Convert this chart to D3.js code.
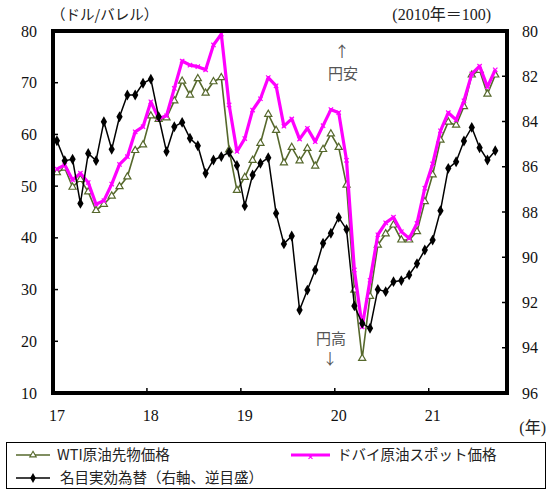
<!DOCTYPE html>
<html>
<head>
<meta charset="utf-8">
<script src="https://cdn.jsdelivr.net/npm/d3@7"></script>
<style>
  html, body { margin: 0; padding: 0; background: #fff; }
  svg { display: block; }
</style>
</head>
<body>
<svg id="chart" width="551" height="491"></svg>
<script>
// Monthly series, Jan 2017 – Sep 2021
const yearLabels = ["17", "18", "19", "20", "21"];
const leftTicks = [10, 20, 30, 40, 50, 60, 70, 80];
const rightTicks = [80, 82, 84, 86, 88, 90, 92, 94, 96];

// WTI crude oil futures (USD/bbl)
const wti = [
  52.6, 53.5, 49.8, 51.3, 48.9, 45.3, 46.5, 48.1, 49.9, 51.8, 56.9, 58.0,
  63.6, 62.9, 63.2, 66.5, 70.3, 67.6, 70.8, 68.0, 70.2, 71.0, 57.0, 49.2,
  51.7, 55.0, 58.3, 63.9, 60.8, 54.5, 57.5, 54.9, 57.3, 53.9, 57.1, 60.1,
  57.5, 50.2, 29.9, 16.7, 28.7, 38.6, 40.8, 42.5, 39.6, 39.6, 41.2, 47.0,
  52.2, 58.9, 62.4, 61.8, 65.4, 71.5, 72.4, 67.8, 71.5
];
// Dubai crude oil spot (USD/bbl)
const dubai = [
  53.3, 54.1, 51.2, 52.5, 50.7, 46.5, 47.2, 50.4, 54.2, 55.7, 60.5, 61.5,
  66.3, 63.1, 63.6, 68.9, 74.2, 73.4, 73.1, 72.5, 77.3, 79.4, 65.7, 56.7,
  59.2, 64.7, 66.9, 71.0, 69.4, 61.6, 63.0, 59.1, 61.2, 58.6, 61.7, 64.8,
  64.2, 55.0, 33.8, 22.8, 31.8, 40.6, 42.9, 44.0, 41.2, 39.9, 42.8, 49.6,
  54.3, 60.7, 64.2, 62.8, 66.5, 71.7, 73.2, 69.2, 72.5
];
// Nominal effective exchange rate (2010 = 100), right axis inverted
const neer = [
  84.85, 85.73, 85.67, 87.62, 85.41, 85.73, 84.01, 85.23, 83.79, 82.83, 82.83, 82.31,
  82.13, 83.79, 85.33, 84.23, 84.04, 84.74, 85.07, 86.29, 85.70, 85.55, 85.36, 85.94,
  87.73, 86.36, 85.85, 85.60, 88.06, 89.41, 89.06, 92.33, 91.45, 90.56, 89.38, 88.94,
  88.24, 88.77, 92.15, 92.92, 93.14, 91.42, 91.52, 91.08, 91.03, 90.78, 90.28, 89.68,
  89.24, 87.94, 86.07, 85.78, 84.86, 84.26, 85.16, 85.70, 85.29
];

const svg = d3.select("#chart");
const plot = { left: 53, right: 507, top: 31, bottom: 393 };
const nSlots = 58; // monthly slots on the category axis

const x = d3.scaleLinear().domain([0, nSlots]).range([plot.left, plot.right]);
const yL = d3.scaleLinear().domain([10, 80]).range([plot.bottom, plot.top]);
const yR = d3.scaleLinear().domain([80, 96]).range([plot.top, plot.bottom]);
const cx = i => x(i + 0.5);

const numFont = "'Liberation Serif', 'Times New Roman', serif";
const jpFont = "'Liberation Serif', 'Noto Sans CJK JP', serif";
const legFont = "'Noto Sans CJK JP', 'Noto Sans', sans-serif";

const olive = "#56682c";
const magenta = "#ff00ff";

// Left axis labels and inner ticks
const gL = svg.append("g");
gL.selectAll("text").data(leftTicks).join("text")
  .attr("x", plot.left - 16).attr("y", d => yL(d)).attr("dy", "0.35em")
  .attr("text-anchor", "end").attr("font-family", numFont).attr("font-size", 16)
  .attr("fill", "#111").text(d => d);
gL.selectAll("line").data(leftTicks).join("line")
  .attr("x1", plot.left).attr("x2", plot.left + 5)
  .attr("y1", d => yL(d)).attr("y2", d => yL(d))
  .attr("stroke", "#000").attr("stroke-width", 1.5);

// Right axis labels and inner ticks
const gR = svg.append("g");
gR.selectAll("text").data(rightTicks).join("text")
  .attr("x", plot.right + 15).attr("y", d => yR(d)).attr("dy", "0.35em")
  .attr("text-anchor", "start").attr("font-family", numFont).attr("font-size", 16)
  .attr("fill", "#111").text(d => d);
gR.selectAll("line").data(rightTicks).join("line")
  .attr("x1", plot.right - 5).attr("x2", plot.right)
  .attr("y1", d => yR(d)).attr("y2", d => yR(d))
  .attr("stroke", "#000").attr("stroke-width", 1.5);

// Year ticks and labels on the x axis
const yearStarts = yearLabels.map((_, k) => k * 12);
svg.append("g").selectAll("line").data(yearStarts.slice(1)).join("line")
  .attr("x1", d => x(d)).attr("x2", d => x(d))
  .attr("y1", plot.bottom - 5).attr("y2", plot.bottom)
  .attr("stroke", "#000").attr("stroke-width", 1.5);
svg.append("g").selectAll("text").data(yearLabels).join("text")
  .attr("x", (d, k) => cx(yearStarts[k])).attr("y", 415).attr("dy", "0.35em")
  .attr("text-anchor", "middle").attr("font-family", numFont).attr("font-size", 16)
  .attr("fill", "#111").text(d => d);

// Unit captions
svg.append("text").attr("x", 51).attr("y", 20)
  .attr("font-family", legFont).attr("font-size", 14.5).attr("fill", "#222")
  .text("（ドル/バレル）");
svg.append("text").attr("x", 491).attr("y", 20).attr("text-anchor", "end")
  .attr("font-family", jpFont).attr("font-size", 16).attr("fill", "#222")
  .text("(2010年＝100)");
svg.append("text").attr("x", 546).attr("y", 433).attr("text-anchor", "end")
  .attr("font-family", jpFont).attr("font-size", 16).attr("fill", "#222")
  .text("(年)");

// Series lines
const lineL = d3.line().x((d, i) => cx(i)).y(d => yL(d));
const lineR = d3.line().x((d, i) => cx(i)).y(d => yR(d));

const gWti = svg.append("g");
gWti.append("path").datum(wti).attr("d", lineL)
  .attr("fill", "none").attr("stroke", olive).attr("stroke-width", 1.6);
gWti.selectAll("path.m").data(wti).join("path").attr("class", "m")
  .attr("d", d3.symbol(d3.symbolTriangle).size(22))
  .attr("transform", (d, i) => `translate(${cx(i)},${yL(d)})`)
  .attr("fill", "#fff").attr("stroke", olive).attr("stroke-width", 1.2);

const gDub = svg.append("g");
gDub.append("path").datum(dubai).attr("d", lineL)
  .attr("fill", "none").attr("stroke", magenta).attr("stroke-width", 3.2)
  .attr("stroke-linejoin", "round");
gDub.selectAll("path.m").data(dubai).join("path").attr("class", "m")
  .attr("d", d3.symbol(d3.symbolTimes).size(14))
  .attr("transform", (d, i) => `translate(${cx(i)},${yL(d)})`)
  .attr("fill", "none").attr("stroke", magenta).attr("stroke-width", 1.2);

const gNeer = svg.append("g");
gNeer.append("path").datum(neer).attr("d", lineR)
  .attr("fill", "none").attr("stroke", "#000").attr("stroke-width", 1.5);
gNeer.selectAll("path.m").data(neer).join("path").attr("class", "m")
  .attr("d", d3.symbol(d3.symbolDiamond).size(34))
  .attr("transform", (d, i) => `translate(${cx(i)},${yR(d)})`)
  .attr("fill", "#000");

// Plot frame
svg.append("rect")
  .attr("x", plot.left).attr("y", plot.top)
  .attr("width", plot.right - plot.left).attr("height", plot.bottom - plot.top)
  .attr("fill", "none").attr("stroke", "#000").attr("stroke-width", 4);

// Direction notes for the inverted yen scale
const note = svg.append("g").attr("font-family", legFont).attr("fill", "#555")
  .attr("text-anchor", "middle");
note.append("text").attr("x", 342).attr("y", 52).attr("dy", "0.35em")
  .attr("font-size", 15).text("↑");
note.append("text").attr("x", 343).attr("y", 74).attr("dy", "0.35em")
  .attr("font-size", 15).text("円安");
note.append("text").attr("x", 331).attr("y", 339).attr("dy", "0.35em")
  .attr("font-size", 15).text("円高");
note.append("text").attr("x", 330).attr("y", 359).attr("dy", "0.35em")
  .attr("font-size", 15).text("↓");

// Legend
const leg = svg.append("g");
leg.append("rect").attr("x", 6.5).attr("y", 442.5).attr("width", 539).attr("height", 46)
  .attr("fill", "#fff").attr("stroke", "#000").attr("stroke-width", 1);

const legendItems = [
  { label: "WTI原油先物価格", x0: 16, x1: 50, tx: 57, y: 455, kind: "wti" },
  { label: "ドバイ原油スポット価格", x0: 291, x1: 330, tx: 337, y: 455, kind: "dubai" },
  { label: "名目実効為替（右軸、逆目盛）", x0: 16, x1: 50, tx: 60, y: 478, kind: "neer" }
];
legendItems.forEach(it => {
  const mid = (it.x0 + it.x1) / 2;
  if (it.kind === "wti") {
    leg.append("line").attr("x1", it.x0).attr("x2", it.x1).attr("y1", it.y).attr("y2", it.y)
      .attr("stroke", olive).attr("stroke-width", 1.6);
    leg.append("path").attr("d", d3.symbol(d3.symbolTriangle).size(18)())
      .attr("transform", `translate(${mid},${it.y})`)
      .attr("fill", "#fff").attr("stroke", olive).attr("stroke-width", 1.1);
  } else if (it.kind === "dubai") {
    leg.append("line").attr("x1", it.x0).attr("x2", it.x1).attr("y1", it.y).attr("y2", it.y)
      .attr("stroke", magenta).attr("stroke-width", 3.2);
    leg.append("path").attr("d", d3.symbol(d3.symbolTimes).size(12)())
      .attr("transform", `translate(${mid},${it.y + 2})`)
      .attr("fill", "none").attr("stroke", magenta).attr("stroke-width", 1.1);
  } else {
    leg.append("line").attr("x1", it.x0).attr("x2", it.x1).attr("y1", it.y).attr("y2", it.y)
      .attr("stroke", "#000").attr("stroke-width", 1.5);
    leg.append("path").attr("d", d3.symbol(d3.symbolDiamond).size(28)())
      .attr("transform", `translate(${mid},${it.y})`).attr("fill", "#000");
  }
  leg.append("text").attr("x", it.tx).attr("y", it.y).attr("dy", "0.35em")
    .attr("font-family", legFont).attr("font-size", 14.5).attr("fill", "#222")
    .text(it.label);
});
</script>
</body>
</html>
